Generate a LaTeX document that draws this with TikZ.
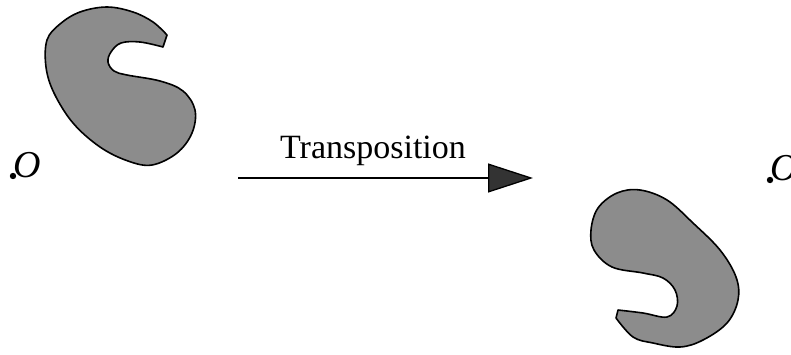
\documentclass[tikz,border=0pt]{standalone}
\usepackage{fontspec}
\setmainfont{Liberation Serif}
\usetikzlibrary{arrows.meta}
\begin{document}
\begin{tikzpicture}[x=1pt,y=-1pt,
  blob/.style={draw=black, line width=1.6pt, fill=black!45, line join=round},
  origlabel/.style={inner sep=0pt, font=\fontsize{38}{42}\selectfont\itshape},
  origdot/.style={fill=black, draw=none},
  lbl/.style={inner sep=0pt, anchor=base, font=\fontsize{34}{40}\selectfont},
  transarrow/.style={line width=1.3pt, -{Triangle[length=45pt,width=29pt,fill=black!80]}}]
\useasboundingbox (0,0) rectangle (791,354);
\clip (0,0) rectangle (791,354);
% left shape
\draw[blob] plot[smooth, tension=0.6] coordinates {(163,47) (140,42) (121,43) (111,52) (108,62) (114,71) (127,75) (160,81) (183,91) (195,110) (192,133) (177,153) (152,165) (128,161) (100,147) (73,123) (54,93) (46,67) (47,40) (60,24) (80,12) (107,7) (133,12) (153,22) (167,35)} -- cycle;
% right shape
\draw[blob] plot[smooth, tension=0.6] coordinates {(618,310) (643,313) (667,317) (677,306) (675,290) (663,278) (643,273) (612,267) (594,250) (591,230) (598,208) (617,193) (640,190) (667,200) (693,223) (720,250) (736,277) (738,300) (727,323) (703,340) (680,347) (653,343) (633,337) (616,318)} -- cycle;
% origins
\fill[origdot] (13,176) circle (3.2);
\node[origlabel] (o1) at (27,165) {O};
\fill[origdot] (770,180) circle (3.2);
\node[origlabel] (o2) at (784,168) {O};
% arrow
\coordinate (a1) at (238,178);
\coordinate (a2) at (533,178);
\draw[transarrow] (a1) -- (a2);
\node[lbl] (t) at (373,158) {Transposition};
\end{tikzpicture}
\end{document}
